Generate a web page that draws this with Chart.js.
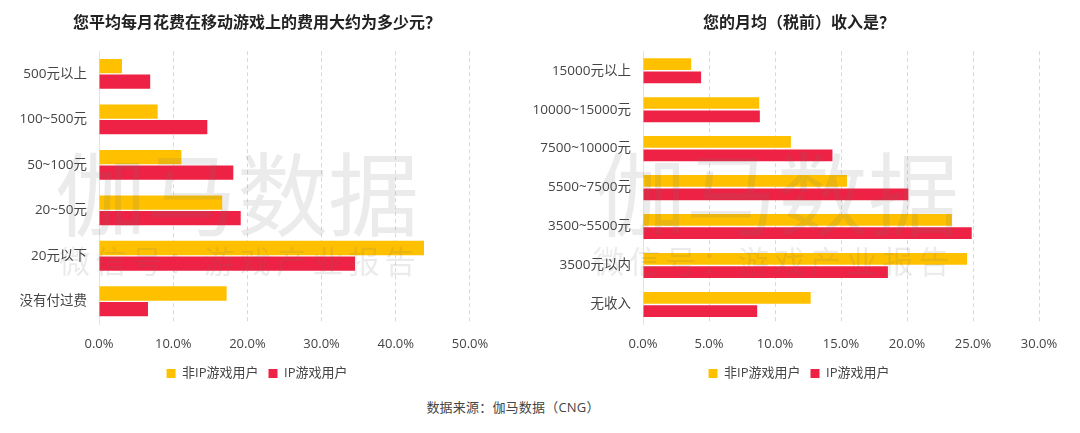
<!DOCTYPE html>
<html>
<head>
<meta charset="utf-8">
<script src="https://cdn.jsdelivr.net/npm/chart.js@4"></script>
<style>
html, body { margin: 0; padding: 0; background: #fff; }
#page { position: relative; width: 1080px; height: 433px; overflow: hidden; font-family: "Open Sans", "Noto Sans CJK SC", sans-serif; }
.box { position: absolute; top: 0; height: 390px; }
#mark1 { left: 0; width: 514px; }
#mark2 { left: 520px; width: 558px; }
.wm { position: absolute; color: rgba(110,110,110,0.14); white-space: nowrap; pointer-events: none; line-height: 1; font-family: "Noto Sans CJK SC", sans-serif; }
.big { top: 144px; font-size: 91px; }
.small { top: 244px; font-size: 31px; letter-spacing: 5.2px; }
#source { position: absolute; top: 397px; left: 0; width: 1026px; text-align: center; font-size: 13px; letter-spacing: 0.2px; color: #444; }
</style>
</head>
<body>
<div id="page">
  <div class="box" id="mark1"><canvas id="spendChart"></canvas></div>
  <div class="box" id="mark2"><canvas id="incomeChart"></canvas></div>
  <div class="wm big" style="left:55px">伽马数据</div>
  <div class="wm small" style="left:59px">微信号：游戏产业报告</div>
  <div class="wm big" style="left:595px">伽马数据</div>
  <div class="wm small" style="left:593px">微信号：游戏产业报告</div>
  <div id="source">数据来源：伽马数据（CNG）</div>
</div>
<script>
const seriesNames = ['非IP游戏用户', 'IP游戏用户'];

const spendTitle = '您平均每月花费在移动游戏上的费用大约为多少元？';
const spendLabels = ['500元以上', '100~500元', '50~100元', '20~50元', '20元以下', '没有付过费'];
const spendNonIp = [3.1, 7.9, 11.1, 16.6, 43.8, 17.2];
const spendIp = [6.9, 14.6, 18.1, 19.1, 34.5, 6.6];
const spendTicks = [0, 10, 20, 30, 40, 50];

const incomeTitle = '您的月均（税前）收入是？';
const incomeLabels = ['15000元以上', '10000~15000元', '7500~10000元', '5500~7500元', '3500~5500元', '3500元以内', '无收入'];
const incomeNonIp = [3.65, 8.8, 11.2, 15.45, 23.4, 24.55, 12.7];
const incomeIp = [4.4, 8.85, 14.35, 20.1, 24.9, 18.55, 8.65];
const incomeTicks = [0, 5, 10, 15, 20, 25, 30];

Chart.defaults.font.family = '"Open Sans", "Noto Sans CJK SC", sans-serif';
Chart.defaults.color = '#444';

function drawChart(id, title, labels, nonIp, ip, tickValues, opt) {
    new Chart(document.getElementById(id), {
        type: 'bar',
        data: {
            labels: labels,
            datasets: [
                { label: seriesNames[0], data: nonIp, backgroundColor: '#FFC000', categoryPercentage: 0.684, barPercentage: opt.barPct },
                { label: seriesNames[1], data: ip, backgroundColor: '#EE2244', categoryPercentage: 0.684, barPercentage: opt.barPct }
            ]
        },
        options: {
            indexAxis: 'y',
            responsive: true,
            maintainAspectRatio: false,
            animation: false,
            plugins: {
                title: {
                    display: true,
                    text: title,
                    color: '#222',
                    font: { family: '"Noto Sans CJK SC", sans-serif', size: 16, weight: 'bold' },
                    padding: { top: 12, bottom: 20 }
                },
                legend: {
                    position: 'bottom',
                    labels: { boxWidth: 9, boxHeight: 9, font: { size: 13 }, color: '#444', padding: 10 }
                },
                tooltip: { enabled: false }
            },
            scales: {
                x: {
                    min: 0,
                    // the axis runs on past the last tick so the title and legend stay centred
                    max: opt.max,
                    afterBuildTicks: s => { s.ticks = tickValues.map(v => ({ value: v })); },
                    ticks: {
                        padding: 12,
                        font: { size: 13 },
                        color: '#444',
                        maxRotation: 0,
                        callback: v => v.toFixed(1) + '%'
                    },
                    grid: { color: '#d9d9d9', drawTicks: false },
                    border: { display: false, dash: [4, 3] },
                    afterFit: s => { s.height = 33; }
                },
                y: {
                    ticks: { padding: 12, font: { size: 13.5 }, color: '#444', autoSkip: false },
                    grid: { display: false, drawTicks: false },
                    border: { color: '#e2e2e2' },
                    afterFit: s => { s.width = opt.axisWidth; }
                }
            }
        }
    });
}

drawChart('spendChart', spendTitle, spendLabels, spendNonIp, spendIp, spendTicks,
    { max: 55.93, barPct: 0.92, axisWidth: 99 });
drawChart('incomeChart', incomeTitle, incomeLabels, incomeNonIp, incomeIp, incomeTicks,
    { max: 32.95, barPct: 0.88, axisWidth: 123 });
</script>
</body>
</html>
